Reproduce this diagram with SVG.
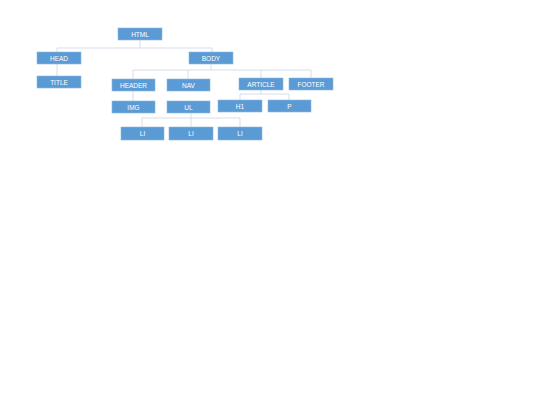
<svg xmlns="http://www.w3.org/2000/svg" width="540" height="405" viewBox="0 0 540 405">
<style>
.n rect{fill:#5b9bd5;stroke:#8db8e2;stroke-width:0.6}
.n text{fill:#ffffff;font-family:"Liberation Sans","Open Sans",sans-serif;font-size:6.5px;text-anchor:middle;dominant-baseline:central}
#edges path{fill:none;stroke:#c9d7e5;stroke-width:0.8}
</style>
<rect width="540" height="405" fill="#ffffff"/>
<g id="edges">
<path d="M140,40 V48 M57,48 H212 M57,48 V76 M212,48 V52"/>
<path d="M211,64 V70 M133,70 H311 M133,70 V101 M188,70 V79 M261,70 V78 M311,70 V78"/>
<path d="M261,90 V94 M240,94 H289 M240,94 V100 M289,94 V100"/>
<path d="M191,112 V118 M142,118 H240 M142,118 V127 M191,118 V127 M240,118 V127"/>
</g>
<g id="html" class="n"><rect x="118" y="28" width="44" height="12"/><text x="140" y="34">HTML</text></g>
<g id="head" class="n"><rect x="37" y="52" width="44" height="12"/><text x="59" y="58">HEAD</text></g>
<g id="title" class="n"><rect x="37" y="76" width="44" height="12"/><text x="59" y="82">TITLE</text></g>
<g id="body" class="n"><rect x="189" y="52" width="44" height="12"/><text x="211" y="58">BODY</text></g>
<g id="header" class="n"><rect x="112" y="79" width="43" height="12"/><text x="133.5" y="85">HEADER</text></g>
<g id="nav" class="n"><rect x="167" y="79" width="43" height="12"/><text x="188.5" y="85">NAV</text></g>
<g id="article" class="n"><rect x="239" y="78" width="44" height="12"/><text x="261" y="84">ARTICLE</text></g>
<g id="footer" class="n"><rect x="289" y="78" width="44" height="12"/><text x="311" y="84">FOOTER</text></g>
<g id="img" class="n"><rect x="112" y="101" width="43" height="12"/><text x="133.5" y="107">IMG</text></g>
<g id="ul" class="n"><rect x="167" y="101" width="43" height="12"/><text x="188.5" y="107">UL</text></g>
<g id="h1" class="n"><rect x="218" y="100" width="44" height="12"/><text x="240" y="106">H1</text></g>
<g id="p" class="n"><rect x="268" y="100" width="43" height="12"/><text x="289.5" y="106">P</text></g>
<g id="li1" class="n"><rect x="121" y="127" width="43" height="13"/><text x="142.5" y="133.5">LI</text></g>
<g id="li2" class="n"><rect x="169" y="127" width="44" height="13"/><text x="191" y="133.5">LI</text></g>
<g id="li3" class="n"><rect x="218" y="127" width="44" height="13"/><text x="240" y="133.5">LI</text></g>
</svg>
